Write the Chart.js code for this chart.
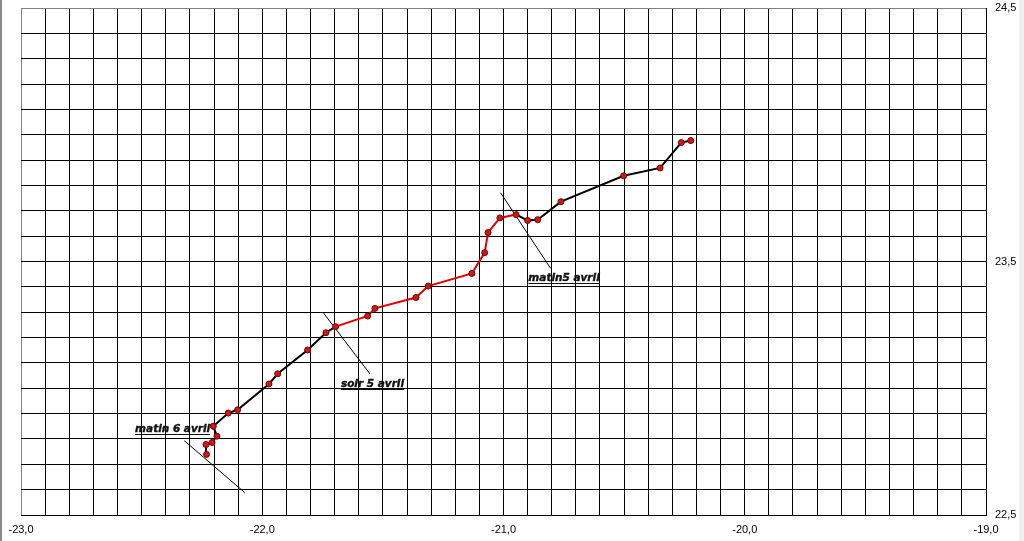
<!DOCTYPE html>
<html>
<head>
<meta charset="utf-8">
<script src="https://cdn.jsdelivr.net/npm/chart.js@4/dist/chart.umd.min.js"></script>
<style>
html,body{margin:0;padding:0;background:#fff;}
#wrap{position:relative;width:1024px;height:541px;}
#edgeL{position:absolute;left:0;top:0;width:2px;height:541px;background:#8a8a8a;}
#edgeR{position:absolute;right:0;top:0;width:5px;height:541px;background:#f0f0f0;}
</style>
</head>
<body>
<div id="wrap">
<canvas id="c" width="1024" height="541"></canvas>
<div id="edgeL"></div>
<div id="edgeR"></div>
</div>
<script>
// Track positions (longitude, latitude), from matin 6 avril (lower left) to the upper right end
const trackLon = [-22.231, -22.233, -22.208, -22.188, -22.203, -22.141, -22.102, -21.972, -21.936, -21.812,
                  -21.736, -21.696, -21.563, -21.533, -21.363, -21.312, -21.131, -21.078, -21.064, -21.015,
                  -20.948, -20.900, -20.858, -20.762, -20.502, -20.351, -20.263, -20.224];
const trackLat = [22.739, 22.778, 22.786, 22.811, 22.850, 22.902, 22.915, 23.017, 23.057, 23.151,
                  23.219, 23.243, 23.285, 23.315, 23.358, 23.403, 23.453, 23.535, 23.614, 23.672,
                  23.685, 23.662, 23.665, 23.736, 23.838, 23.869, 23.969, 23.977];
// index range of the red (daytime) part of the track
const dayStart = 11;
const dayEnd = 20;

// Marker lines (start / end)
const mark6MatinLon = [-22.323, -22.072];
const mark6MatinLat = [22.793, 22.588];
const mark5SoirLon = [-21.747, -21.553];
const mark5SoirLat = [23.298, 23.056];
const mark5MatinLon = [-21.012, -20.804];
const mark5MatinLat = [23.771, 23.472];

// Labels
const noteText = ["matin 6 avril", "soir 5 avril", "matin5 avril"];
const noteLon = [-22.527, -21.674, -20.897];
const noteLat = [22.827, 23.005, 23.423];

// Axes
const xMin = -23.0, xMax = -19.0, yMin = 22.5, yMax = 24.5, gridStep = 0.1;

const zip = (a, b) => a.map((v, i) => ({x: v, y: b[i]}));
const fmt = v => v.toFixed(1).replace('.', ',');

const notesPlugin = {
  id: 'notes',
  afterDatasetsDraw(chart) {
    const ctx = chart.ctx, xs = chart.scales.x, ys = chart.scales.y;
    ctx.save();
    ctx.font = 'italic bold 10.5px "DejaVu Sans"';
    ctx.fillStyle = '#111';
    ctx.strokeStyle = '#111';
    ctx.textBaseline = 'alphabetic';
    ctx.textAlign = 'left';
    noteText.forEach((t, i) => {
      const px = xs.getPixelForValue(noteLon[i]);
      const py = ys.getPixelForValue(noteLat[i]);
      ctx.fillText(t, px, py);
      ctx.lineWidth = 0.4;
      ctx.strokeText(t, px, py);
      ctx.lineWidth = 1;
      const w = ctx.measureText(t).width;
      ctx.beginPath();
      ctx.moveTo(px, Math.round(py) + 2.5);
      ctx.lineTo(px + w, Math.round(py) + 2.5);
      ctx.stroke();
    });
    ctx.restore();
  }
};

const markStyle = {borderColor: '#000', borderWidth: 1, pointRadius: 0, showLine: true, fill: false, order: 2};

new Chart(document.getElementById('c'), {
  type: 'scatter',
  data: {
    datasets: [
      Object.assign({data: zip(mark6MatinLon, mark6MatinLat)}, markStyle),
      Object.assign({data: zip(mark5SoirLon, mark5SoirLat)}, markStyle),
      Object.assign({data: zip(mark5MatinLon, mark5MatinLat)}, markStyle),
      {
        data: zip(trackLon, trackLat),
        showLine: true,
        borderColor: '#000',
        borderWidth: 2,
        segment: {
          borderColor: c => (c.p0DataIndex >= dayStart && c.p0DataIndex < dayEnd) ? '#e00000' : '#000'
        },
        pointRadius: 3,
        pointBackgroundColor: '#d01818',
        pointBorderColor: '#700000',
        pointBorderWidth: 1,
        order: 1
      }
    ]
  },
  options: {
    responsive: false,
    animation: false,
    devicePixelRatio: 1,
    layout: {padding: {left: 21, top: 8, right: 0, bottom: 0}},
    plugins: {legend: {display: false}, tooltip: {enabled: false}},
    scales: {
      x: {
        type: 'linear', min: xMin, max: xMax,
        afterFit: s => { s.height = 26; s.paddingLeft = 0; s.paddingRight = 0; },
        grid: {
          color: c => c.index === 0 ? '#808080' : '#000',
          lineWidth: 1, drawTicks: false
        },
        border: {display: true, color: '#000', width: 1},
        ticks: {
          stepSize: gridStep, autoSkip: false, maxRotation: 0, padding: 8,
          color: '#000', font: {family: '"Liberation Sans", Arial, sans-serif', size: 11},
          callback: v => { const k = Math.round(v * 10); return (k % 10 === 0) ? fmt(k / 10) : ''; }
        }
      },
      y: {
        type: 'linear', position: 'right', min: yMin, max: yMax,
        afterFit: s => { s.width = 38; s.paddingTop = 0; s.paddingBottom = 0; },
        grid: {
          color: c => (c.tick && Math.abs(c.tick.value - yMax) < 1e-6) ? '#808080' : '#000',
          lineWidth: 1, drawTicks: false
        },
        border: {display: true, color: '#000', width: 1},
        ticks: {
          stepSize: gridStep, autoSkip: false, padding: 9,
          color: '#000', font: {family: '"Liberation Sans", Arial, sans-serif', size: 11},
          callback: v => { const k = Math.round(v * 10); return (k % 10 === 5) ? fmt(k / 10) : ''; }
        }
      }
    }
  },
  plugins: [notesPlugin]
});
</script>
</body>
</html>
